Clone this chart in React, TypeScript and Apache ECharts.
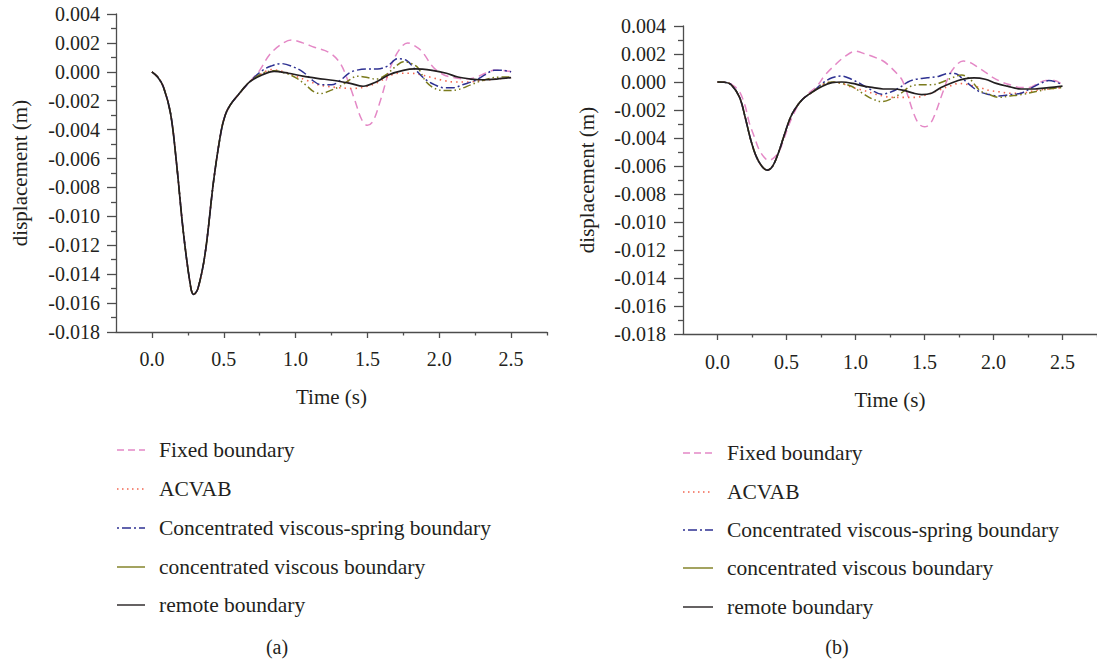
import React, { useEffect, useRef } from "react";
import * as echarts from "echarts";

// ---------- labels ----------
const seriesNames = [
  "Fixed boundary",
  "ACVAB",
  "Concentrated viscous-spring boundary",
  "concentrated viscous boundary",
  "remote boundary",
];
const panelCaptions = ["(a)", "(b)"];
const xTicks = [0, 0.5, 1.0, 1.5, 2.0, 2.5];
const xMinorTicks = [0.25, 0.75, 1.25, 1.75, 2.25, 2.75];
const xName = "Time (s)";
const yName = "displacement (m)";

// ---------- panel (a) data ----------
// shared response of all boundaries in (a) up to ~0.68 s
const tA_common = [0, 0.04, 0.08, 0.13, 0.17, 0.22, 0.27, 0.29, 0.32, 0.37, 0.43, 0.48, 0.51, 0.545, 0.6, 0.68];
const vA_common = [0, -0.00036, -0.00105, -0.0029, -0.0062, -0.0112, -0.0149, -0.0154, -0.015, -0.0126, -0.0075, -0.0042, -0.003, -0.0023, -0.0016, -0.0007];

const tA_fixed = [0.75, 0.82, 0.9, 0.97, 1.05, 1.13, 1.24, 1.31, 1.36, 1.41, 1.46, 1.5, 1.54, 1.59, 1.66, 1.72, 1.78, 1.83, 1.88, 1.96, 2.03, 2.1, 2.18, 2.25, 2.32, 2.38, 2.44, 2.5];
const vA_fixed = [0.0001, 0.0012, 0.0019, 0.0022, 0.002, 0.0017, 0.0013, 0.0006, -0.0005, -0.0019, -0.0033, -0.0037, -0.0034, -0.002, 0.0003, 0.0015, 0.002, 0.0018, 0.0014, 0.0003, -0.0002, -0.0004, -0.0005, -0.0004, -0.0001, 0.0001, 0.0001, 0.0];

const tA_acvab = [0.77, 0.83, 0.92, 1.0, 1.08, 1.16, 1.22, 1.3, 1.4, 1.5, 1.58, 1.65, 1.72, 1.8, 1.87, 1.95, 2.03, 2.1, 2.2, 2.3, 2.4, 2.5];
const vA_acvab = [-0.0001, 0.00015, 0.0, -0.0003, -0.0006, -0.0009, -0.001, -0.0011, -0.00115, -0.001, -0.0007, -0.0003, -0.0001, -0.0001, -0.0002, -0.0004, -0.0006, -0.0007, -0.0007, -0.0006, -0.0005, -0.0004];

const tA_spring = [0.77, 0.83, 0.9, 0.97, 1.05, 1.12, 1.18, 1.25, 1.31, 1.37, 1.42, 1.5, 1.57, 1.64, 1.71, 1.77, 1.83, 1.9, 1.97, 2.03, 2.1, 2.16, 2.25, 2.32, 2.38, 2.44, 2.5];
const vA_spring = [0.0001, 0.0004, 0.00057, 0.0004, 0.0, -0.0006, -0.0009, -0.0009, -0.0006, -0.0001, 0.0001, 0.0002, 0.0002, 0.0004, 0.0009, 0.0008, 0.0002, -0.0005, -0.0009, -0.0011, -0.0011, -0.0009, -0.0006, -0.0002, 0.0001, 0.0001, 0.0];

const tA_viscous = [0.77, 0.85, 0.93, 1.0, 1.07, 1.13, 1.18, 1.24, 1.31, 1.37, 1.43, 1.5, 1.56, 1.63, 1.7, 1.75, 1.8, 1.85, 1.91, 1.98, 2.06, 2.14, 2.22, 2.3, 2.38, 2.5];
const vA_viscous = [-0.0001, 0.00007, -0.0001, -0.0004, -0.0009, -0.0014, -0.0015, -0.0013, -0.001, -0.0006, -0.0003, -0.0004, -0.0005, -0.0002, 0.0004, 0.0007, 0.0006, 0.0003, -0.0007, -0.0012, -0.0013, -0.0012, -0.0009, -0.0006, -0.0004, -0.00035];

const tA_remote = [0.77, 0.85, 0.95, 1.05, 1.15, 1.27, 1.38, 1.47, 1.56, 1.65, 1.75, 1.83, 1.95, 2.05, 2.13, 2.22, 2.3, 2.4, 2.5];
const vA_remote = [-0.0002, 0.00003, -0.0001, -0.0003, -0.00045, -0.0006, -0.0008, -0.001, -0.0007, -0.0002, 0.0001, 0.0002, 0.0001, -0.0001, -0.00036, -0.0005, -0.00055, -0.0005, -0.0004];

// ---------- panel (b) data ----------
const tB_common = [0, 0.05, 0.1, 0.16, 0.2, 0.24, 0.28, 0.32, 0.36, 0.4, 0.44, 0.49, 0.53, 0.57, 0.62, 0.69];
const vB_common = [0, -0.00002, -0.0002, -0.0011, -0.0025, -0.0041, -0.0053, -0.006, -0.0063, -0.006, -0.0051, -0.0036, -0.0025, -0.0018, -0.0012, -0.0007];

const tB_fixed = [0, 0.06, 0.12, 0.16, 0.2, 0.23, 0.27, 0.3, 0.34, 0.37, 0.41, 0.45, 0.48, 0.52, 0.56, 0.6, 0.66, 0.72, 0.78, 0.85, 0.92, 1.0, 1.07, 1.13, 1.2, 1.25, 1.3, 1.34, 1.38, 1.42, 1.46, 1.5, 1.54, 1.58, 1.63, 1.68, 1.73, 1.78, 1.83, 1.88, 1.94, 2.0, 2.06, 2.12, 2.2, 2.26, 2.32, 2.38, 2.44, 2.5];
const vB_fixed = [0, 0, -0.0003, -0.0007, -0.0017, -0.0029, -0.004, -0.0048, -0.0054, -0.0056, -0.0054, -0.0049, -0.0041, -0.003, -0.0021, -0.0014, -0.0008, -0.0003, 0.0005, 0.0012, 0.0018, 0.0022, 0.002, 0.0018, 0.0015, 0.0011, 0.0006, 0.0001, -0.001, -0.0022, -0.003, -0.0032, -0.003, -0.0022, -0.0008, 0.0005, 0.0012, 0.0015, 0.0014, 0.0011, 0.0007, 0.0003, 0.0, -0.0002, -0.0004, -0.0004, -0.0001, 0.0001, 0.0001, -0.0002];

const tB_acvab = [0.76, 0.83, 0.9, 0.98, 1.06, 1.12, 1.2, 1.27, 1.35, 1.43, 1.52, 1.6, 1.68, 1.75, 1.82, 1.9, 1.97, 2.04, 2.12, 2.2, 2.3, 2.4, 2.5];
const vB_acvab = [-0.0002, 0.0, -0.0001, -0.0004, -0.0006, -0.0008, -0.001, -0.0011, -0.0011, -0.0011, -0.0009, -0.0006, -0.0003, -0.0001, -0.0002, -0.0004, -0.0006, -0.0007, -0.0008, -0.0008, -0.0006, -0.0005, -0.0004];

const tB_spring = [0.76, 0.83, 0.9, 0.97, 1.05, 1.12, 1.19, 1.26, 1.32, 1.38, 1.44, 1.52, 1.6, 1.67, 1.72, 1.78, 1.84, 1.9, 1.97, 2.04, 2.12, 2.2, 2.28, 2.34, 2.4, 2.45, 2.5];
const vB_spring = [-0.0001, 0.0003, 0.00043, 0.0002, -0.0002, -0.0006, -0.00088, -0.0007, -0.0004, 0.0, 0.0002, 0.0003, 0.0004, 0.0006, 0.0006, 0.0002, -0.0003, -0.0007, -0.0009, -0.001, -0.0009, -0.0008, -0.0004, -0.0001, 0.0001, 0.0, -0.0002];

const tB_viscous = [0.76, 0.83, 0.9, 0.97, 1.05, 1.12, 1.19, 1.26, 1.33, 1.4, 1.47, 1.55, 1.63, 1.7, 1.77, 1.83, 1.9, 1.97, 2.04, 2.12, 2.2, 2.3, 2.4, 2.5];
const vB_viscous = [-0.0002, 0.0, -0.0001, -0.0003, -0.0008, -0.0012, -0.0014, -0.0012, -0.0008, -0.0003, -0.0002, -0.0002, 0.0, 0.0003, 0.0005, 0.0002, -0.0006, -0.0009, -0.0011, -0.001, -0.0009, -0.0007, -0.0005, -0.0004];

const tB_remote = [0.76, 0.83, 0.9, 0.98, 1.06, 1.13, 1.2, 1.27, 1.35, 1.42, 1.48, 1.55, 1.62, 1.7, 1.78, 1.86, 1.94, 2.02, 2.1, 2.2, 2.3, 2.4, 2.5];
const vB_remote = [-0.0003, -0.00005, 0.0, -0.0001, -0.0003, -0.0004, -0.0005, -0.0005, -0.0006, -0.0008, -0.0009, -0.0008, -0.0004, -0.00005, 0.0002, 0.0003, 0.0002, -0.0001, -0.0003, -0.0005, -0.0005, -0.0004, -0.0003];

// ---------- styles ----------
const FONT = '"Liberation Serif", "DejaVu Serif", "Times New Roman", serif';
const TEXT = "#231f20";
const AXIS = "#4d4d4d";
const colors = ["#e488c6", "#f26650", "#2e3192", "#7b7b1c", "#231f20"];
const dashes: (number[] | "solid")[] = [[8, 5], [1.5, 4], [9, 3, 2, 3], [8, 3, 1.5, 3, 1.5, 3], "solid"];
const legendDashes: (number[] | null)[] = [[7, 4], [1.5, 3.5], [2, 3, 9, 3], null, null];
const widths = [1.5, 1.6, 1.5, 1.5, 1.7];

function pairs(t: number[], v: number[]) {
  return t.map((x, i) => [x, v[i]]);
}

function fmtY(v: number) {
  if (Math.abs(v) < 1e-9) return "0.000";
  return v.toFixed(3);
}

type Panel = {
  left: number; top: number; width: number; height: number;
  yNameGap: number; xNameGap: number; xMargin: number; yMargin: number;
  data: number[][][];
  legendY: number[]; lx1: number; lx2: number; tx: number;
  capX: number; capY: number;
};

export default function App() {
  const ref = useRef<HTMLDivElement>(null);

  useEffect(() => {
    if (!ref.current) return;
    const chart = echarts.init(ref.current, undefined, { renderer: "svg" });

    const panels: Panel[] = [
      {
        left: 116, top: 14, width: 431, height: 318,
        yNameGap: 86, xNameGap: 54, xMargin: 17, yMargin: 16,
        data: [
          pairs(tA_common, vA_common).concat(pairs(tA_fixed, vA_fixed)),
          pairs(tA_common, vA_common).concat(pairs(tA_acvab, vA_acvab)),
          pairs(tA_common, vA_common).concat(pairs(tA_spring, vA_spring)),
          pairs(tA_common, vA_common).concat(pairs(tA_viscous, vA_viscous)),
          pairs(tA_common, vA_common).concat(pairs(tA_remote, vA_remote)),
        ],
        legendY: [450, 489, 528, 567, 605], lx1: 117, lx2: 145, tx: 159,
        capX: 277, capY: 647,
      },
      {
        left: 683, top: 26, width: 415, height: 308,
        yNameGap: 86, xNameGap: 55, xMargin: 18, yMargin: 17,
        data: [
          pairs(tB_fixed, vB_fixed),
          pairs(tB_common, vB_common).concat(pairs(tB_acvab, vB_acvab)),
          pairs(tB_common, vB_common).concat(pairs(tB_spring, vB_spring)),
          pairs(tB_common, vB_common).concat(pairs(tB_viscous, vB_viscous)),
          pairs(tB_common, vB_common).concat(pairs(tB_remote, vB_remote)),
        ],
        legendY: [453, 492, 530, 568, 607], lx1: 683, lx2: 713, tx: 727,
        capX: 837, capY: 647,
      },
    ];

    const grid: any[] = [];
    const xAxis: any[] = [];
    const yAxis: any[] = [];
    const series: any[] = [];
    const graphic: any[] = [];

    panels.forEach((p, pi) => {
      grid.push({ left: p.left, top: p.top, width: p.width, height: p.height, containLabel: false });
      xAxis.push({
        type: "value", gridIndex: pi, min: -0.25, max: 2.75, position: "bottom",
        axisLine: { show: true, onZero: false, lineStyle: { color: AXIS, width: 1.3 } },
        axisTick: { show: true, customValues: xTicks, length: 6, lineStyle: { color: AXIS, width: 1.3 } },
        axisLabel: {
          customValues: xTicks, formatter: (v: number) => v.toFixed(1), margin: p.xMargin,
          fontSize: 20, fontFamily: FONT, color: TEXT,
        },
        splitLine: { show: false },
        name: xName, nameLocation: "middle", nameGap: p.xNameGap,
        nameTextStyle: { fontSize: 21, fontFamily: FONT, color: TEXT },
      });
      xAxis.push({
        type: "value", gridIndex: pi, min: -0.25, max: 2.75, position: "bottom",
        axisLine: { show: false, onZero: false },
        axisTick: { show: true, customValues: xMinorTicks, length: 3.5, lineStyle: { color: AXIS, width: 1.3 } },
        axisLabel: { show: false, customValues: xMinorTicks },
        splitLine: { show: false },
      });
      yAxis.push({
        type: "value", gridIndex: pi, min: -0.018, max: 0.004, interval: 0.002,
        axisLine: { show: true, onZero: false, lineStyle: { color: AXIS, width: 1.3 } },
        axisTick: { show: true, length: 9, lineStyle: { color: AXIS, width: 1.3 } },
        minorTick: { show: true, splitNumber: 2, length: 5, lineStyle: { color: AXIS, width: 1.3 } },
        axisLabel: { formatter: fmtY, margin: p.yMargin, fontSize: 20, fontFamily: FONT, color: TEXT },
        splitLine: { show: false },
        minorSplitLine: { show: false },
        name: yName, nameLocation: "middle", nameGap: p.yNameGap, nameRotate: 90,
        nameTextStyle: { fontSize: 21, fontFamily: FONT, color: TEXT },
      });

      seriesNames.forEach((name, si) => {
        series.push({
          type: "line", name, xAxisIndex: pi * 2, yAxisIndex: pi,
          data: p.data[si], smooth: 0.35, showSymbol: false, symbol: "none",
          lineStyle: { color: colors[si], width: widths[si], type: dashes[si] },
          z: 2 + si,
        });
        const ly = p.legendY[si];
        graphic.push({
          type: "line",
          shape: { x1: p.lx1, y1: ly, x2: p.lx2, y2: ly },
          style: {
            stroke: colors[si], lineWidth: 1.4,
            lineDash: legendDashes[si] || undefined,
          },
        });
        graphic.push({
          type: "text", x: p.tx, y: ly,
          style: {
            text: name, fontSize: 21.5, fontFamily: FONT, fill: TEXT,
            verticalAlign: "middle", align: "left",
          },
        });
      });
      graphic.push({
        type: "text", x: p.capX, y: p.capY,
        style: {
          text: panelCaptions[pi], fontSize: 20, fontFamily: FONT, fill: TEXT,
          verticalAlign: "middle", align: "center",
        },
      });
    });

    chart.setOption({
      animation: false,
      backgroundColor: "#ffffff",
      grid, xAxis, yAxis, series, graphic,
    });

    return () => chart.dispose();
  }, []);

  return (
    <div
      ref={ref}
      style={{ position: "fixed", left: 0, top: 0, width: 1097, height: 663 }}
    />
  );
}
